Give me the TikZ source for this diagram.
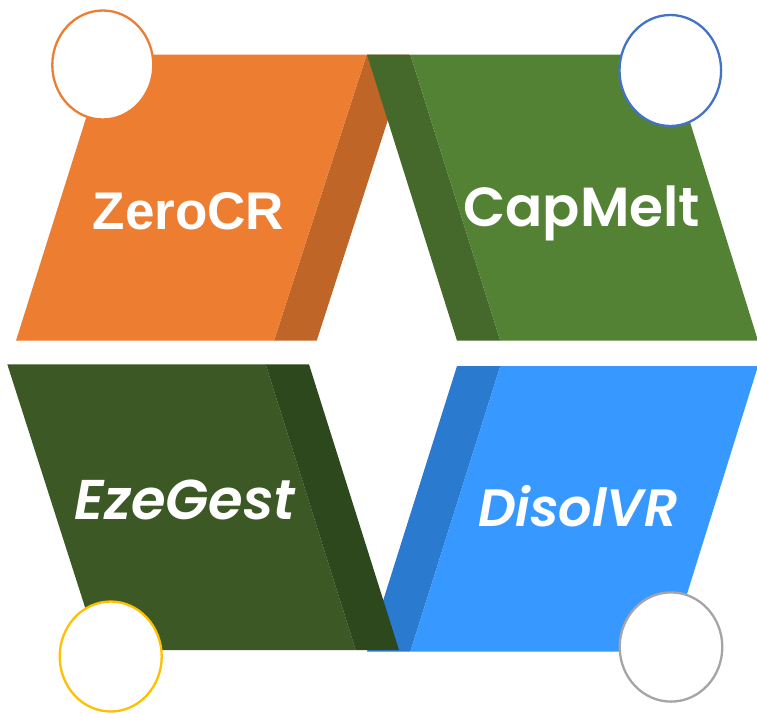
\documentclass[tikz,border=0pt]{standalone}
\usepackage{fontspec}
\setmainfont{Liberation Sans}
\newfontfamily\popfont{Poppins SemiBold}
\newfontfamily\popitfont{Poppins SemiBold Italic}
\definecolor{corange}{HTML}{ED7D31}
\definecolor{corangedk}{HTML}{BF6527}
\definecolor{cgreen}{HTML}{548235}
\definecolor{cgreendk}{HTML}{44692B}
\definecolor{cdkgreen}{HTML}{3B5825}
\definecolor{cdkgreendk}{HTML}{2E481E}
\definecolor{cblue}{HTML}{3799FF}
\definecolor{cbluedk}{HTML}{2A7BD0}
\definecolor{ringorange}{HTML}{ED7D31}
\definecolor{ringblue}{HTML}{4472C4}
\definecolor{ringyellow}{HTML}{FFC000}
\definecolor{ringgray}{HTML}{A5A5A5}
\tikzset{
  ring/.style={fill=white, line width=2.3pt},
  label/.style={text=white, inner sep=0pt, anchor=base},
}
\begin{document}
\begin{tikzpicture}[x=1pt, y=-1pt]
\useasboundingbox (0,0) rectangle (757,713);
% orange block
\fill[corangedk] (366.7,54.5) -- (409,54.5) -- (316.7,340.7) -- (274,340.7) -- cycle;
\fill[corange] (106,54.5) -- (366.7,54.5) -- (274,340.7) -- (16,340.7) -- cycle;
% green block
\fill[cgreendk] (367,54.5) -- (410.3,54.5) -- (500.3,340.7) -- (457,340.7) -- cycle;
\fill[cgreen] (410.3,54.5) -- (669,54.5) -- (758,340.7) -- (500.3,340.7) -- cycle;
% blue block
\fill[cbluedk] (457,366) -- (500.3,366) -- (410.3,651.7) -- (367,651.7) -- cycle;
\fill[cblue] (500.3,366) -- (758,366) -- (669,651.7) -- (410.3,651.7) -- cycle;
% dark green block
\fill[cdkgreen] (7.3,364.3) -- (265.7,364.3) -- (355.7,650) -- (98.7,650) -- cycle;
\fill[cdkgreendk] (265.7,364.3) -- (309,364.3) -- (399,650) -- (355.7,650) -- cycle;
% rings
\draw[ring, draw=ringorange] (102.8,65) ellipse [x radius=50.5, y radius=54.5];
\draw[ring, draw=ringblue] (670.3,70.5) ellipse [x radius=50.8, y radius=55.5];
\draw[ring, draw=ringyellow] (110.7,656.5) ellipse [x radius=51, y radius=55];
\draw[ring, draw=ringgray] (671,647) ellipse [x radius=51.3, y radius=54.6];
% labels
\node[label, font=\fontsize{53}{60}\selectfont\bfseries] (zero) at (188.5,229.3) {ZeroCR};
\node[label, font=\fontsize{55}{62}\selectfont\popfont] (cap) at (581.7,226.7) {CapMelt};
\node[label, font=\fontsize{56}{62}\selectfont\popitfont] (eze) at (185,519.3) {EzeGest};
\node[label, font=\fontsize{52.5}{60}\selectfont\popitfont] (dis) at (578,526.7) {DisolVR};
\end{tikzpicture}
\end{document}
